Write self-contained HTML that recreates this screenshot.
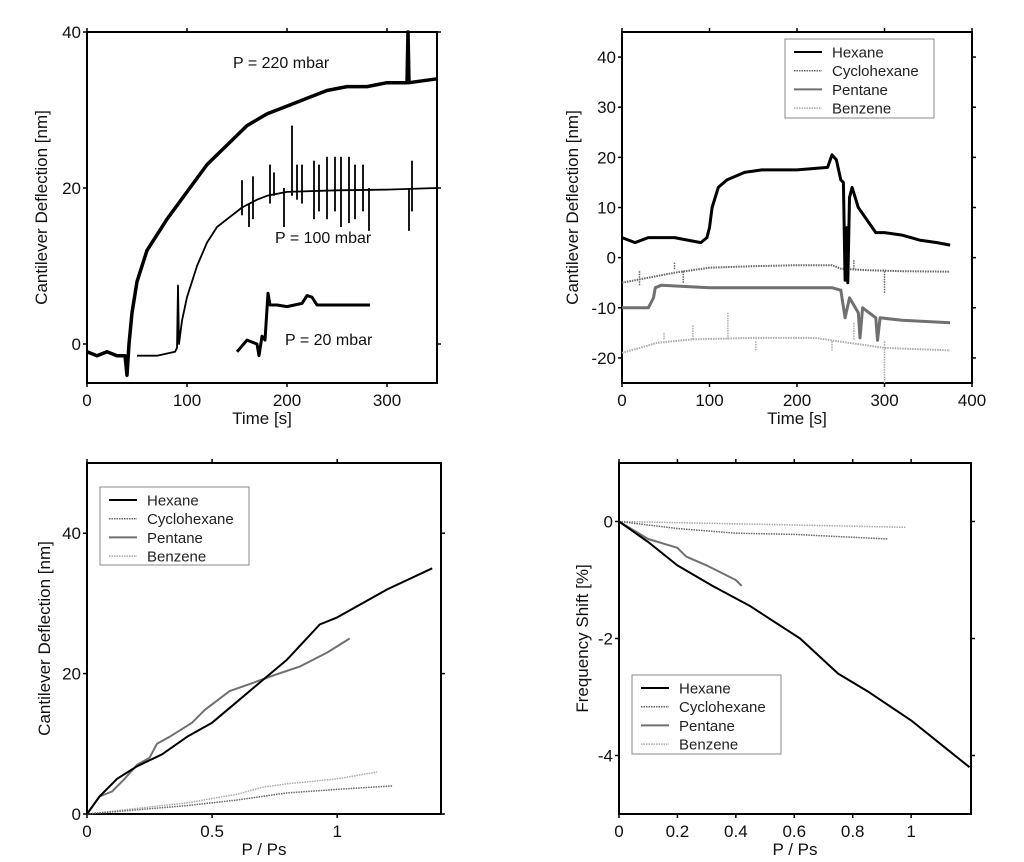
<!DOCTYPE html>
<html><head><meta charset="utf-8"><style>
body{margin:0;background:#fff}
svg{display:block;font-family:"Liberation Sans",Arial,sans-serif}
</style></head><body>
<svg id="fig" width="1024" height="862" viewBox="0 0 1024 862"></svg>
<script>
// ---------- Panel A data (time traces at different pressures) ----------
const aT220=[0,10,20,30,38,40,42,45,50,55,60,70,80,100,120,140,160,180,200,220,240,260,280,300,320,321,322,350];
const aV220=[-1,-1.5,-1,-1.5,-1.5,-4,0,4,8,10,12,14,16,19.5,23,25.5,28,29.5,30.5,31.5,32.5,33,33,33.5,33.5,40,33.5,34];
const aT100=[50,70,88,90,91,92,95,100,110,120,130,140,155,170,180,200,250,300,350];
const aV100=[-1.5,-1.5,-1,-0.5,7.5,0,3,6,10,13,15,16,17.5,18.5,19,19.5,19.7,19.8,20];
const aSpikeT=[155,162,166,183,187,197,205,210,215,227,232,240,248,254,262,268,276,282,322,325];
const aSpikeHi=[21,18,21.5,23,22,20,28,23,23,23.5,23,24,24,24,24,23,23,20,20,23.5];
const aSpikeLo=[16.5,15,16,18,19,15,19,18.5,18,16,17,16,17,15,15.5,16,17,14.5,14.5,17];
const aT20=[150,160,170,172,175,178,181,183,190,200,215,220,225,230,250,283];
const aV20=[-1,0.5,0,-1.5,1,0.5,6.5,5,5,4.8,5.2,6.2,6,5,5,5];
const aXTicks=[0,100,200,300];
const aYTicks=[0,20,40];

// ---------- Panel B data (four solvents vs time) ----------
const bTHex=[0,15,30,60,90,97,100,103,110,120,140,160,200,235,240,245,250,253,255,257,258,260,263,270,280,290,300,320,340,360,375];
const bVHex=[4,3,4,4,3,4,6,10,14,15.5,17,17.5,17.5,18,20.5,19.5,15.5,15,-4.5,6,-5,12,14,10,7.5,5,5,4.5,3.5,3,2.5];
const bTCyc=[0,30,60,100,150,200,240,250,280,320,375];
const bVCyc=[-5,-4,-3,-2,-1.7,-1.5,-1.5,-2.2,-2.5,-2.7,-2.8];
const bTPen=[0,30,36,38,45,100,200,240,250,255,260,270,272,275,290,292,295,320,375];
const bVPen=[-10,-10,-8,-6,-5.5,-6,-6,-6,-6.5,-12,-8,-11,-16,-10,-12,-16.5,-12,-12.5,-13];
const bTBen=[0,40,80,150,220,260,300,375];
const bVBen=[-19,-17,-16.3,-16,-16,-17,-18,-18.5];
const bCycSpikeT=[20,60,70,255,265,300];
const bCycSpikeV=[-5.5,-1,-5,-1,-0.5,-7];
const bBenSpikeT=[48,81,121,153,240,265,300];
const bBenSpikeV=[-15,-13.5,-11,-18.5,-18.5,-13,-25];
const bXTicks=[0,100,200,300,400];
const bYTicks=[-20,-10,0,10,20,30,40];

// ---------- Panel C data (deflection vs P/Ps) ----------
const cXHex=[0,0.05,0.12,0.2,0.3,0.4,0.5,0.6,0.7,0.8,0.93,1.0,1.1,1.2,1.38];
const cYHex=[0,2.5,5,6.8,8.5,11,13,16,19,22,27,28,30,32,35];
const cXPen=[0,0.05,0.1,0.15,0.2,0.25,0.28,0.33,0.42,0.47,0.57,0.65,0.75,0.85,0.96,1.05];
const cYPen=[0,2.5,3.2,5,7,8,10,11,13,14.8,17.5,18.5,19.8,21,23,25];
const cXCyc=[0,0.2,0.4,0.6,0.8,1.0,1.22];
const cYCyc=[0,0.6,1.2,2,3,3.5,4];
const cXBen=[0,0.2,0.4,0.6,0.7,0.8,1.0,1.16];
const cYBen=[0,0.8,1.6,2.8,3.8,4.3,5,6];
const cXTicks=[0,0.5,1];
const cYTicks=[0,20,40];

// ---------- Panel D data (frequency shift vs P/Ps) ----------
const dXHex=[0,0.1,0.2,0.32,0.45,0.62,0.75,0.85,1.0,1.1,1.2];
const dYHex=[0,-0.35,-0.75,-1.1,-1.45,-2,-2.6,-2.9,-3.4,-3.8,-4.2];
const dXPen=[0,0.1,0.2,0.23,0.3,0.4,0.42];
const dYPen=[0,-0.3,-0.45,-0.6,-0.75,-1.0,-1.1];
const dXCyc=[0,0.2,0.4,0.6,0.92];
const dYCyc=[0,-0.12,-0.2,-0.22,-0.3];
const dXBen=[0,0.5,0.98];
const dYBen=[0,-0.05,-0.1];
const dXTicks=[0,0.2,0.4,0.6,0.8,1];
const dYTicks=[-4,-2,0];

const NS="http://www.w3.org/2000/svg";
const svg=document.getElementById('fig');
function mk(tag,attrs,parent){const e=document.createElementNS(NS,tag);for(const k in attrs)e.setAttribute(k,attrs[k]);(parent||svg).appendChild(e);return e;}

const STY={
 hex:{stroke:'#000','stroke-width':2,dash:null},
 cyc:{stroke:'#666','stroke-width':1.5,dash:'1.5,1'},
 pen:{stroke:'#707070','stroke-width':2,dash:null},
 ben:{stroke:'#aaa','stroke-width':1.5,dash:'1.5,1'}
};

function panel(name,box,xd,yd,xt,yt,xlab,ylab,ylabX){
 const g=mk('g',{});
 
 
 const sx=v=>box.l+(v-xd[0])/(xd[1]-xd[0])*(box.r-box.l);
 const sy=v=>box.b-(v-yd[0])/(yd[1]-yd[0])*(box.b-box.t);
 const fr=mk('rect',{x:box.l,y:box.t,width:box.r-box.l,height:box.b-box.t,fill:'none',stroke:'#000','stroke-width':2},g);
 
 
 xt.forEach(v=>{
  const x=sx(v);
  mk('line',{x1:x,x2:x,y1:box.b,y2:box.b+4,stroke:'#000','stroke-width':1.5},g);
  mk('line',{x1:x,x2:x,y1:box.t,y2:box.t-4,stroke:'#000','stroke-width':1.5},g);
  const t=mk('text',{x:x,y:box.b+23,'text-anchor':'middle','font-size':17,fill:'#111'},g);
  t.textContent=String(v);
  
  
 });
 yt.forEach(v=>{
  const y=sy(v);
  mk('line',{x1:box.l,x2:box.l-4,y1:y,y2:y,stroke:'#000','stroke-width':1.5},g);
  mk('line',{x1:box.r,x2:box.r+4,y1:y,y2:y,stroke:'#000','stroke-width':1.5},g);
  const t=mk('text',{x:box.l-6,y:y+6,'text-anchor':'end','font-size':17,fill:'#111'},g);
  t.textContent=String(v);
  
  
 });
 const xl=mk('text',{x:(box.l+box.r)/2,y:box.b+41,'text-anchor':'middle','font-size':17,fill:'#111'},g);
 xl.textContent=xlab;
 
 
 const cy=(box.t+box.b)/2;
 const yl=mk('text',{x:ylabX,y:cy,'text-anchor':'middle','font-size':17,fill:'#111',transform:`rotate(-90 ${ylabX} ${cy})`},g);
 yl.textContent=ylab;
 
 
 return {g,sx,sy};
}
function series(P,xs,ys,sty,name){
 const d=xs.map((x,i)=>(i?'L':'M')+P.sx(x).toFixed(1)+','+P.sy(ys[i]).toFixed(1)).join('');
 const a={d:d,fill:'none',stroke:sty.stroke,'stroke-width':sty['stroke-width'],'stroke-linejoin':'round'};
 if(sty.dash)a['stroke-dasharray']=sty.dash;
 const p=mk('path',a,P.g);
 
 
 return p;
}
function spikes(P,ts,hi,lo,sty,name){
 ts.forEach((t,i)=>{
  const a={x1:P.sx(t),x2:P.sx(t),y1:P.sy(hi[i]),y2:P.sy(lo[i]),stroke:sty.stroke,'stroke-width':sty['stroke-width']};
  if(sty.dash)a['stroke-dasharray']=sty.dash;
  const l=mk('line',a,P.g);
  
  
 });
}
function legend(P,x,y,w,h){
 const g=mk('g',{},P.g);
 
 
 mk('rect',{x:x,y:y,width:w,height:h,fill:'#fff',stroke:'#888','stroke-width':1},g);
 [['Hexane','hex'],['Cyclohexane','cyc'],['Pentane','pen'],['Benzene','ben']].forEach((e,i)=>{
  const yy=y+13+i*18.7;
  const s=STY[e[1]];
  const a={x1:x+9,x2:x+37,y1:yy,y2:yy,stroke:s.stroke,'stroke-width':s['stroke-width']};
  if(s.dash)a['stroke-dasharray']=s.dash;
  const ln=mk('line',a,g);
  
  
  const t=mk('text',{x:x+47,y:yy+5.5,'font-size':15,fill:'#222'},g);
  t.textContent=e[0];
  
  
 });
}

// Panel A
const A=panel('panel-a',{l:87,r:437,t:32,b:383},[0,350],[-5,40],aXTicks,aYTicks,'Time [s]','Cantilever Deflection [nm]',47);
series(A,aT220,aV220,{stroke:'#000','stroke-width':3.5},'trace-220-mbar');
series(A,aT100,aV100,{stroke:'#000','stroke-width':1.8},'trace-100-mbar');
spikes(A,aSpikeT,aSpikeHi,aSpikeLo,{stroke:'#000','stroke-width':1.8},'trace-100-spike');
series(A,aT20,aV20,{stroke:'#000','stroke-width':3},'trace-20-mbar');
[['P = 220 mbar',233,68],['P = 100 mbar',275,243],['P = 20 mbar',285,345]].forEach(l=>{
 const t=mk('text',{x:l[1],y:l[2],'font-size':16,fill:'#111'},A.g);
 t.textContent=l[0];
 
 
});

// Panel B
const B=panel('panel-b',{l:622,r:972,t:32,b:383},[0,400],[-25,45],bXTicks,bYTicks,'Time [s]','Cantilever Deflection [nm]',578);
series(B,bTBen,bVBen,{stroke:'#aaa','stroke-width':2,dash:'1.5,1'},'benzene-trace');
spikes(B,bBenSpikeT,bBenSpikeV,bBenSpikeT.map(()=>-16.5),STY.ben,'benzene-spike');
series(B,bTCyc,bVCyc,{stroke:'#666','stroke-width':2,dash:'1.5,1'},'cyclohexane-trace');
spikes(B,bCycSpikeT,bCycSpikeV,bCycSpikeT.map(()=>-2.5),STY.cyc,'cyclohexane-spike');
series(B,bTPen,bVPen,{stroke:'#707070','stroke-width':3},'pentane-trace');
series(B,bTHex,bVHex,{stroke:'#000','stroke-width':3},'hexane-trace');
legend(B,785,39,149,79);

// Panel C
const C=panel('panel-c',{l:87,r:441,t:463,b:814},[0,1.415],[0,50],cXTicks,cYTicks,'P / Ps','Cantilever Deflection [nm]',50);
series(C,cXBen,cYBen,STY.ben,'benzene-line');
series(C,cXCyc,cYCyc,STY.cyc,'cyclohexane-line');
series(C,cXPen,cYPen,STY.pen,'pentane-line');
series(C,cXHex,cYHex,STY.hex,'hexane-line');
legend(C,100,487,149,78);

// Panel D
const D=panel('panel-d',{l:619,r:971,t:463,b:814},[0,1.205],[-5,1],dXTicks,dYTicks,'P / Ps','Frequency Shift [%]',588);
series(D,dXBen,dYBen,STY.ben,'benzene-line');
series(D,dXCyc,dYCyc,STY.cyc,'cyclohexane-line');
series(D,dXPen,dYPen,STY.pen,'pentane-line');
series(D,dXHex,dYHex,STY.hex,'hexane-line');
legend(D,632,675,149,79);
</script>
</body></html>
